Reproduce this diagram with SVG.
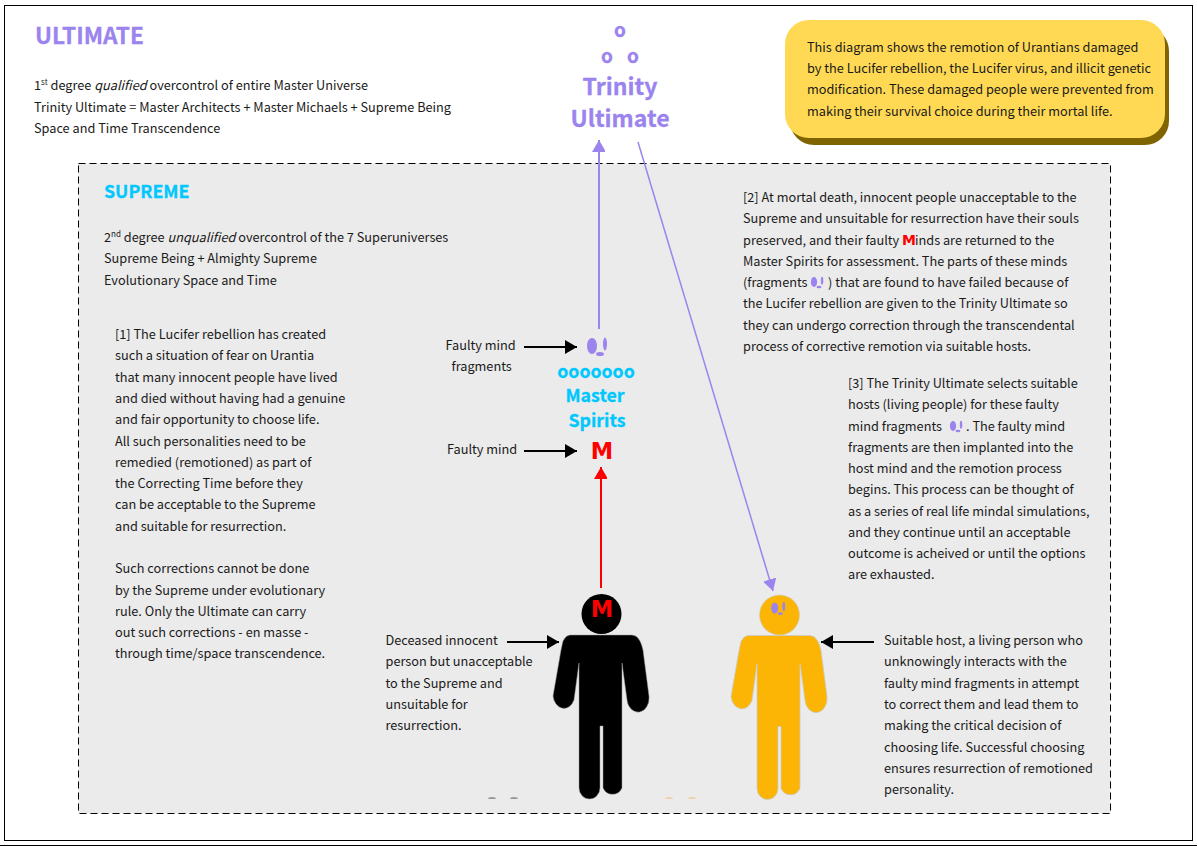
<svg xmlns="http://www.w3.org/2000/svg" width="1197" height="846" viewBox="0 0 1197 846">
<style>
text{font-family:"Noto Sans CJK SC","Noto Sans",sans-serif;font-size:12.72px;fill:#1a1a1a}
.h{font-weight:700;stroke-width:.3}
.u{fill:#9b84ee;stroke:#9b84ee}
.s{fill:#00c8ff;stroke:#00c8ff}
.f{fill:#9b84ee}
.r{fill:#ff0000;font-family:"DejaVu Sans",sans-serif;font-weight:700}
.c{text-anchor:middle}
.a{fill:none;stroke-width:2}
.sup{font-size:8px}
</style>
<defs>
<marker id="ab" markerUnits="userSpaceOnUse" markerWidth="13" markerHeight="14" refX="12" refY="7" orient="auto"><path d="M0 0L12 7L0 14Z" fill="#000"/></marker>
<marker id="ar" markerUnits="userSpaceOnUse" markerWidth="14" markerHeight="13" refX="12" refY="7" orient="auto"><path d="M0 0L12 7L0 14Z" fill="#f00"/></marker>
<marker id="ap" markerUnits="userSpaceOnUse" markerWidth="14" markerHeight="13" refX="12" refY="7" orient="auto"><path d="M0 0L12 7L0 14Z" fill="#9b84ee"/></marker>
<path id="body" d="M570 635H632Q637 635 640 641Q642 645 643 650L649 696A11 14 0 0 1 627 700L622 663V788A10.500 11 0 0 1 603 788V726H600V788A10.500 11 0 0 1 579 788V663L574 700A11 14 0 0 1 553 696L561 650Q562 645 563 641Q566 635 570 635Z"/>
<g id="frag"><ellipse cx="0" cy="0" rx="5" ry="8"/><ellipse cx="13" cy="-2" rx="2" ry="6.500"/><ellipse cx="8" cy="8" rx="4" ry="2"/></g>
</defs>
<rect id="frame-outer" x="0" y="845" width="1197" height="1" fill="#000"/>
<rect id="frame" x="4.500" y="5.500" width="1188" height="835" fill="#fff" stroke="#000"/>
<g id="ultimate-label">
<text x="35" y="44" class="h u" style="font-size:22.700px">ULTIMATE</text>
<text x="34" y="90">1<tspan class="sup" dy="-5">st</tspan><tspan dy="5"> degree </tspan><tspan font-style="italic">qualified</tspan> overcontrol of entire Master Universe</text>
<text x="34" y="112">Trinity Ultimate = Master Architects + Master Michaels + Supreme Being</text>
<text x="34" y="133">Space and Time Transcendence</text>
</g>
<g id="note">
<rect x="790" y="27" width="379" height="118" rx="24" fill="#806400"/>
<rect x="785" y="20" width="380" height="118" rx="24" fill="#ffd954"/>
<text x="807" y="52">This diagram shows the remotion of Urantians damaged</text>
<text x="807" y="73">by the Lucifer rebellion, the Lucifer virus, and illicit genetic</text>
<text x="807" y="94">modification. These damaged people were prevented from</text>
<text x="807" y="116">making their survival choice during their mortal life.</text>
</g>
<rect id="supreme-area" x="78.500" y="163.500" width="1032" height="650" fill="#ebebeb" stroke="#000" stroke-dasharray="7 4"/>
<g id="supreme-label">
<text x="104" y="198" class="h s" style="font-size:17.800px">SUPREME</text>
<text x="104" y="242">2<tspan class="sup" dy="-5">nd</tspan><tspan dy="5"> degree </tspan><tspan font-style="italic">unqualified</tspan> overcontrol of the 7 Superuniverses</text>
<text x="104" y="263">Supreme Being + Almighty Supreme</text>
<text x="104" y="285">Evolutionary Space and Time</text>
</g>
<g id="note-1">
<text x="115" y="339">[1] The Lucifer rebellion has created</text>
<text x="115" y="360">such a situation of fear on Urantia</text>
<text x="115" y="382">that many innocent people have lived</text>
<text x="115" y="403">and died without having had a genuine</text>
<text x="115" y="424">and fair opportunity to choose life.</text>
<text x="115" y="446">All such personalities need to be</text>
<text x="115" y="467">remedied (remotioned) as part of</text>
<text x="115" y="488">the Correcting Time before they</text>
<text x="115" y="509">can be acceptable to the Supreme</text>
<text x="115" y="531">and suitable for resurrection.</text>
<text x="115" y="573">Such corrections cannot be done</text>
<text x="115" y="595">by the Supreme under evolutionary</text>
<text x="115" y="616">rule. Only the Ultimate can carry</text>
<text x="115" y="637">out such corrections - en masse -</text>
<text x="115" y="658">through time/space transcendence.</text>
</g>
<g id="note-2">
<text x="743" y="202">[2] At mortal death, innocent people unacceptable to the</text>
<text x="743" y="223">Supreme and unsuitable for resurrection have their souls</text>
<text x="743" y="245">preserved, and their faulty</text>
<text x="902" y="245" class="r" style="font-size:14px">M</text>
<text x="915" y="245">inds are returned to the</text>
<text x="743" y="266">Master Spirits for assessment. The parts of these minds</text>
<text x="743" y="287">(fragments</text><use href="#frag" transform="translate(814 282) scale(.62)" class="f"/><text x="828" y="287">) that are found to have failed because of</text>
<text x="743" y="308">the Lucifer rebellion are given to the Trinity Ultimate so</text>
<text x="743" y="330">they can undergo correction through the transcendental</text>
<text x="743" y="351">process of corrective remotion via suitable hosts.</text>
</g>
<g id="note-3">
<text x="848" y="388">[3] The Trinity Ultimate selects suitable</text>
<text x="848" y="409">hosts (living people) for these faulty</text>
<text x="848" y="431">mind fragments</text><use href="#frag" transform="translate(953 426) scale(.62)" class="f"/>
<text x="966" y="431">. The faulty mind</text>
<text x="848" y="452">fragments are then implanted into the</text>
<text x="848" y="473">host mind and the remotion process</text>
<text x="848" y="494">begins. This process can be thought of</text>
<text x="848" y="516">as a series of real life mindal simulations,</text>
<text x="848" y="537">and they continue until an acceptable</text>
<text x="848" y="558">outcome is acheived or until the options</text>
<text x="848" y="579">are exhausted.</text>
</g>
<g id="trinity-ultimate">
<text x="620" y="37" class="h u c" style="font-size:19px">o</text>
<text x="607" y="63" class="h u c" style="font-size:19px">o</text>
<text x="633" y="63" class="h u c" style="font-size:19px">o</text>
<text x="620" y="95" class="h u c" style="font-size:23px">Trinity</text>
<text x="620" y="127" class="h u c" style="font-size:23px">Ultimate</text>
</g>
<g id="master-spirits">
<use href="#frag" transform="translate(592 346)" class="f"/>
<text x="596" y="378" class="h s c" style="font-size:17.700px">ooooooo</text>
<text x="595" y="402" class="h s c" style="font-size:17.700px">Master</text>
<text x="597" y="427" class="h s c" style="font-size:17.700px">Spirits</text>
</g>
<g id="faulty-mind">
<text x="602" y="459" class="r c" style="font-size:22.500px">M</text>
</g>
<g id="deceased-person">
<circle cx="601.500" cy="614" r="20"/>
<use href="#body" stroke="#999" stroke-width=".5"/>
<text x="602" y="617" class="r c" style="font-size:22.500px">M</text>
<ellipse cx="492" cy="798" rx="4" ry=".6" fill="#444"/><ellipse cx="514" cy="798" rx="4" ry=".6" fill="#444"/>
</g>
<g id="host-person" fill="#fcb405">
<circle cx="779.500" cy="615" r="20" stroke="#ccc" stroke-width=".6"/>
<use href="#body" transform="translate(178 .5)" stroke="#ccc" stroke-width=".8"/>
<use href="#frag" transform="translate(774.700 608) scale(.7)" class="f"/>
<ellipse cx="669" cy="798" rx="4" ry=".6" fill="#f5b85c"/><ellipse cx="692" cy="798" rx="4" ry=".6" fill="#f5b85c"/>
</g>
<g id="labels">
<text x="445.500" y="350">Faulty mind</text>
<text x="451.500" y="371">fragments</text>
<text x="447" y="454">Faulty mind</text>
<text x="385.500" y="645">Deceased innocent</text>
<text x="385.500" y="666">person but unacceptable</text>
<text x="385.500" y="688">to the Supreme and</text>
<text x="385.500" y="709">unsuitable for</text>
<text x="385.500" y="730">resurrection.</text>
<text x="884" y="645">Suitable host, a living person who</text>
<text x="884" y="666">unknowingly interacts with the</text>
<text x="884" y="688">faulty mind fragments in attempt</text>
<text x="884" y="709">to correct them and lead them to</text>
<text x="884" y="730">making the critical decision of</text>
<text x="884" y="752">choosing life. Successful choosing</text>
<text x="884" y="773">ensures resurrection of remotioned</text>
<text x="884" y="794">personality.</text>
</g>
<g id="connectors">
<path class="a" d="M524 347H577" stroke="#000" marker-end="url(#ab)"/>
<path class="a" d="M524 451H577" stroke="#000" marker-end="url(#ab)"/>
<path class="a" d="M507 642H559" stroke="#000" marker-end="url(#ab)"/>
<path class="a" d="M874 642H821" stroke="#000" marker-end="url(#ab)"/>
<path class="a" d="M601 588V467" stroke="#f00" marker-end="url(#ar)"/>
<path class="a" d="M599 329V140" stroke="#9b84ee" marker-end="url(#ap)"/>
<path d="M638 142L773 591" fill="none" stroke="#9b84ee" stroke-width="1.500" marker-end="url(#ap)"/>
</g>
</svg>
